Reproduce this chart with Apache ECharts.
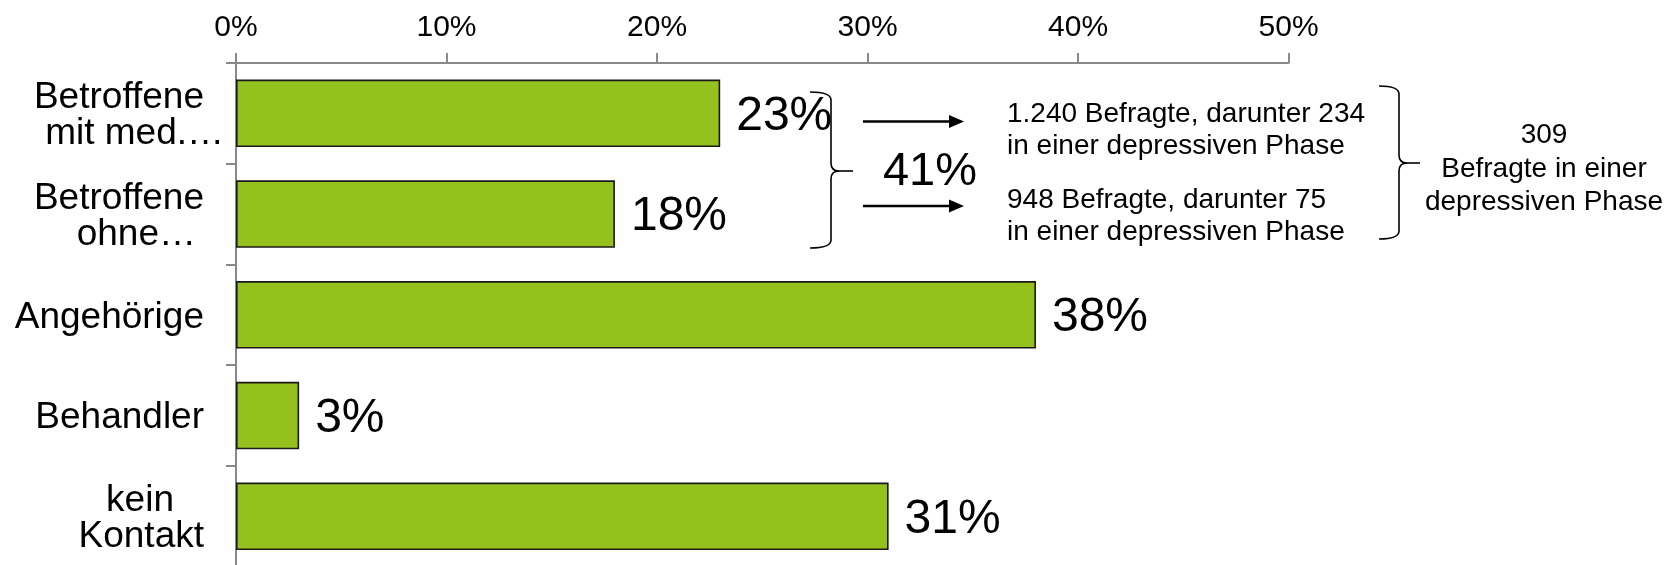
<!DOCTYPE html>
<html>
<head>
<meta charset="utf-8">
<script src="https://cdn.jsdelivr.net/npm/echarts@6/dist/echarts.min.js"></script>
<style>
  html, body { margin: 0; padding: 0; background: #ffffff; }
  #chart { width: 1680px; height: 565px; }
</style>
</head>
<body>
<div id="chart"></div>
<script>
// Contact groups and their share of respondents (percent)
const categories = ['Betroffene\nmit med.…', 'Betroffene\nohne…', 'Angehörige', 'Behandler', 'kein\nKontakt'];
const shares = [23, 18, 38, 3, 31];

// Value axis range (percent)
const axisMin = 0;
const axisMax = 50;
const axisStep = 10;

// Side notes
const noteWith = ['1.240 Befragte, darunter 234', 'in einer depressiven Phase'];
const noteWithout = ['948 Befragte, darunter 75', 'in einer depressiven Phase'];
const noteTotal = ['309', 'Befragte in einer', 'depressiven Phase'];

const FONT = '"Liberation Sans", Arial, Helvetica, sans-serif';
const AXIS_GRAY = '#898989';
const BAR_GREEN = '#95C11F';

// Right inset of each category label line (lines are right-aligned)
const lineInset = {
  'Betroffene': 20, 'mit med.…': 0, 'ohne…': 28,
  'Angehörige': 20, 'Behandler': 20, 'kein': 50, 'Kontakt': 20
};
const richStyles = {};
Object.values(lineInset).forEach(v => {
  richStyles['i' + v] = {
    fontSize: 37, fontFamily: FONT, color: '#000', lineHeight: 36,
    align: 'right', padding: [0, v, 0, 0]
  };
});
const categoryFormatter = name =>
  name.split('\n').map(line => `{i${lineInset[line] ?? 20}|${line}}`).join('\n');

const chart = echarts.init(document.getElementById('chart'), null, { renderer: 'canvas' });

// Brace drawn from bezier pieces: hook at top/bottom, tip pointing right
function brace(xHook, xV, xTip, yTop, yMid, yBot) {
  const r = 8;
  const s = { stroke: '#000', lineWidth: 1.6, fill: null };
  return [
    { type: 'bezierCurve', shape: { x1: xHook, y1: yTop, cpx1: xV, cpy1: yTop, x2: xV, y2: yTop + r }, style: s },
    { type: 'line', shape: { x1: xV, y1: yTop + r, x2: xV, y2: yMid - r }, style: s },
    { type: 'bezierCurve', shape: { x1: xV, y1: yMid - r, cpx1: xV, cpy1: yMid, x2: xV + r, y2: yMid }, style: s },
    { type: 'line', shape: { x1: xV + r, y1: yMid, x2: xTip, y2: yMid }, style: s },
    { type: 'bezierCurve', shape: { x1: xV + r, y1: yMid, cpx1: xV, cpy1: yMid, x2: xV, y2: yMid + r }, style: s },
    { type: 'line', shape: { x1: xV, y1: yMid + r, x2: xV, y2: yBot - r }, style: s },
    { type: 'bezierCurve', shape: { x1: xV, y1: yBot - r, cpx1: xV, cpy1: yBot, x2: xHook, y2: yBot }, style: s }
  ];
}

function arrow(x1, x2, y) {
  return [
    { type: 'line', shape: { x1: x1, y1: y, x2: x2 - 12, y2: y }, style: { stroke: '#000', lineWidth: 2.5 } },
    { type: 'polygon', shape: { points: [[x2 - 15, y - 6.5], [x2, y], [x2 - 15, y + 6.5]] }, style: { fill: '#000' } }
  ];
}

function note(lines, x, y, align, lh) {
  return {
    type: 'text',
    style: {
      text: lines.join('\n'), x: x, y: y,
      font: `28px ${FONT}`, fill: '#000',
      textAlign: align, textVerticalAlign: 'middle', lineHeight: lh
    }
  };
}

const combined = shares[0] + shares[1];

const graphics = [].concat(
  brace(810, 831, 853, 92, 171, 248),
  brace(1379, 1399, 1420, 86, 163, 239),
  arrow(863, 964, 121.5),
  arrow(863, 964, 206),
  [
    {
      type: 'text',
      style: {
        text: combined + '%', x: 930, y: 172,
        font: `47px ${FONT}`, fill: '#000',
        textAlign: 'center', textVerticalAlign: 'middle'
      }
    },
    note(noteWith, 1007, 130.5, 'left', 32),
    note(noteWithout, 1007, 216, 'left', 32),
    note(noteTotal, 1544, 169, 'center', 33.5)
  ]
);

chart.setOption({
  backgroundColor: '#ffffff',
  animation: false,
  textStyle: { fontFamily: FONT },
  grid: {
    left: 236, top: 63, width: 1052.6, height: 503.7,
    containLabel: false, outerBoundsMode: 'none'
  },
  xAxis: {
    type: 'value',
    position: 'top',
    min: axisMin, max: axisMax, interval: axisStep,
    axisLine: { show: true, lineStyle: { color: AXIS_GRAY, width: 2 } },
    axisTick: { show: true, length: 10, inside: false, lineStyle: { color: AXIS_GRAY, width: 2 } },
    splitLine: { show: false },
    axisLabel: {
      show: true, formatter: '{value}%', fontSize: 30, color: '#000',
      fontFamily: FONT, margin: 20
    }
  },
  yAxis: {
    type: 'category',
    inverse: true,
    data: categories,
    axisLine: { show: true, lineStyle: { color: AXIS_GRAY, width: 2 } },
    axisTick: { show: true, length: 10, inside: false, alignWithLabel: false, lineStyle: { color: AXIS_GRAY, width: 2 } },
    splitLine: { show: false },
    axisLabel: {
      show: true, margin: 12, interval: 0,
      padding: [5, 0, 0, 0],
      formatter: categoryFormatter,
      rich: richStyles
    }
  },
  series: [{
    type: 'bar',
    data: shares,
    barWidth: '67%',
    itemStyle: { color: BAR_GREEN, borderColor: '#1a1a1a', borderWidth: 1.6 },
    label: {
      show: true, position: 'right', distance: 16, offset: [0, 3],
      fontSize: 48, color: '#000', fontFamily: FONT,
      formatter: p => p.value + '%'
    },
    emphasis: { disabled: true }
  }],
  graphic: graphics
});
</script>
</body>
</html>
